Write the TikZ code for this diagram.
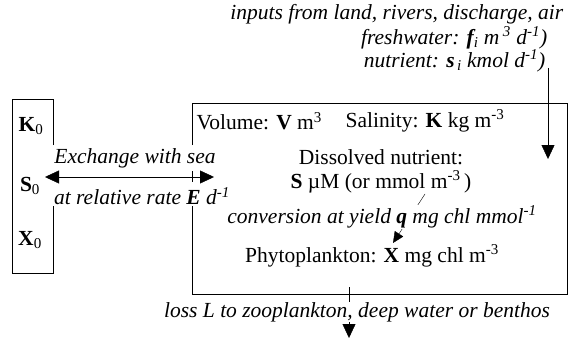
\documentclass[tikz,border=0pt]{standalone}
\usepackage{fontspec}
\setmainfont{Liberation Serif}
\usetikzlibrary{arrows.meta}
\begin{document}
\begin{tikzpicture}[x=1pt,y=-1pt,
  font=\fontsize{21.5}{24}\selectfont,
  txt/.style={inner sep=0.5pt},
  itx/.style={inner sep=0.5pt,font=\fontsize{21.5}{24}\selectfont\itshape},
  bigarrow/.style={-{Triangle[length=14pt,width=13pt]}},
  dbl/.style={{Triangle[length=14pt,width=13pt]}-{Triangle[length=14pt,width=13pt]}},
  smallarrow/.style={-{Triangle[length=11pt,width=10pt]}},
  edge/.style={line width=0.8pt}]
\useasboundingbox (0,0) rectangle (578,350);
% top texts
\node[itx,anchor=east] (inputs) at (564,14) {inputs from land, rivers, discharge, air};
\node[itx,anchor=east] (fresh) at (548,38) {freshwater: \textbf{f}\textsubscript{i} m\,\textsuperscript{3} d\textsuperscript{-1})};
\node[itx,anchor=east] (nutr) at (546,61) {nutrient: \textbf{s}\textsubscript{\,i} kmol d\textsuperscript{-1})};
\coordinate (inTop) at (548,68);
\coordinate (inEnd) at (548,159);
\draw[bigarrow] (inTop) -- (inEnd);
% left box
\draw[edge] (53,145) -- (53,99) -- (12,99) -- (12,273) -- (53,273) -- (53,206);
\node[txt] (K0) at (31,126) {\textbf{K}\textsubscript{0}};
\node[txt] (S0) at (30,186) {\textbf{S}\textsubscript{0}};
\node[txt] (X0) at (30,240) {\textbf{X}\textsubscript{0}};
% main box
\draw[edge] (192,145) -- (192,103) -- (567,103) -- (567,294) -- (192,294) -- (192,206);
\draw[edge] (192,171) -- (192,182);
% exchange arrow
\coordinate (exL) at (45,177);
\coordinate (exR) at (214,177);
\draw[dbl] (exL) -- (exR);
\node[itx] (exch) at (135,158) {Exchange with sea};
\node[itx] (rate) at (142,196) {at relative rate \textbf{E} d\textsuperscript{-1}};
% main box content
\node[txt,anchor=west] (vol) at (196,121) {Volume: \textbf{V} m\textsuperscript{3}};
\node[txt,anchor=west] (sal) at (345,121) {Salinity: \textbf{K} kg m\textsuperscript{-3}};
\node[txt] (dis) at (381,157) {Dissolved nutrient:};
\node[txt] (S) at (381,182) {\textbf{S} µM (or mmol m\textsuperscript{-3}\,)};
\node[txt] (X) at (372,256) {Phytoplankton: \textbf{X} mg chl m\textsuperscript{-3}};
\coordinate (convStart) at (425,194);
\coordinate (convEnd) at (393,243);
\draw[smallarrow] (convStart) -- (convEnd);
\node[itx,fill=white] (conv) at (382,217) {conversion at yield \textbf{q} mg chl mmol\textsuperscript{-1}};
% loss
\coordinate (lossTop) at (349,287);
\coordinate (lossEnd) at (349,338);
\draw[bigarrow] (lossTop) -- (lossEnd);
\node[itx,fill=white] (loss) at (357,312) {loss L to zooplankton, deep water or benthos};
\end{tikzpicture}
\end{document}
